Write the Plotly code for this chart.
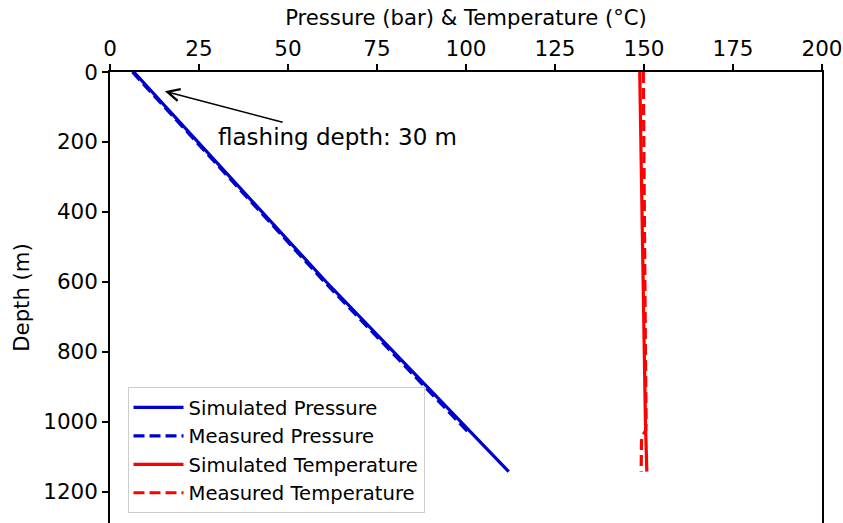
import plotly.graph_objects as go

# Simulated well profile
sim_depth = [0, 200, 400, 600, 800, 1000, 1143]
sim_pressure = [6.7, 24.7, 42.7, 60.7, 79.6, 98.5, 112.0]
sim_temperature = [148.8, 149.1, 149.4, 149.7, 150.0, 150.4, 150.8]

# Measured pressure log
meas_p_depth = [0, 200, 400, 600, 800, 1000, 1035]
meas_pressure = [6.3, 24.2, 42.2, 60.2, 79.0, 97.8, 101.1]

# Measured temperature log
meas_t_depth = [0, 200, 400, 600, 800, 1000, 1025, 1040, 1055, 1143]
meas_temperature = [149.8, 149.9, 150.0, 150.2, 150.4, 150.6, 150.5, 149.6, 149.3, 149.2]

x_ticks = [0, 25, 50, 75, 100, 125, 150, 175, 200]
y_ticks = [0, 200, 400, 600, 800, 1000, 1200]

flash_label = "flashing depth: 30 m"
flash_point = (15.4, 55)
flash_text_pos = (64, 185)

FONT = "DejaVu Sans"
BLUE = "#0000cd"
RED = "#ff0000"

fig = go.Figure()
fig.add_trace(go.Scatter(x=sim_pressure, y=sim_depth, mode="lines",
                         name="Simulated Pressure",
                         line=dict(color=BLUE, width=3.2)))
fig.add_trace(go.Scatter(x=meas_pressure, y=meas_p_depth, mode="lines",
                         name="Measured Pressure",
                         line=dict(color=BLUE, width=3.2, dash="11px,5px")))
fig.add_trace(go.Scatter(x=sim_temperature, y=sim_depth, mode="lines",
                         name="Simulated Temperature",
                         line=dict(color=RED, width=3.2)))
fig.add_trace(go.Scatter(x=meas_temperature, y=meas_t_depth, mode="lines",
                         name="Measured Temperature",
                         line=dict(color=RED, width=3.2, dash="11px,5px")))

fig.add_annotation(x=flash_point[0], y=flash_point[1], xref="x", yref="y",
                   ax=flash_text_pos[0], ay=flash_text_pos[1], axref="x", ayref="y",
                   text=flash_label, showarrow=True, arrowhead=5,
                   arrowwidth=1.5, arrowsize=1.6, arrowcolor="black",
                   xanchor="center", yanchor="middle",
                   font=dict(family=FONT, size=23, color="black"))

axis_common = dict(showline=True, linecolor="black", linewidth=1.5,
                   ticks="outside", ticklen=6, tickwidth=1.5, tickcolor="black",
                   showgrid=False, zeroline=False,
                   tickfont=dict(family=FONT, size=21.5, color="black"))

fig.update_xaxes(side="top", range=[0, 200], tickvals=x_ticks,
                 title=dict(text="Pressure (bar) & Temperature (°C)",
                            font=dict(family=FONT, size=21.2, color="black"),
                            standoff=4),
                 mirror=False, **axis_common)
fig.update_yaxes(range=[1290, 0], tickvals=y_ticks,
                 title=dict(text="Depth (m)",
                            font=dict(family=FONT, size=21.2, color="black"),
                            standoff=8),
                 mirror=True, **axis_common)

fig.update_layout(
    width=843, height=523,
    margin=dict(l=109.5, r=21.3, t=71.5, b=0),
    paper_bgcolor="white", plot_bgcolor="white",
    font=dict(family=FONT, size=20, color="black"),
    legend=dict(x=0.0246, y=0.022, xanchor="left", yanchor="bottom",
                bgcolor="white", bordercolor="#cccccc", borderwidth=1,
                font=dict(family=FONT, size=19.6, color="black"),
                itemwidth=50, tracegroupgap=0),
    showlegend=True,
)

fig.write_html("out.html")
